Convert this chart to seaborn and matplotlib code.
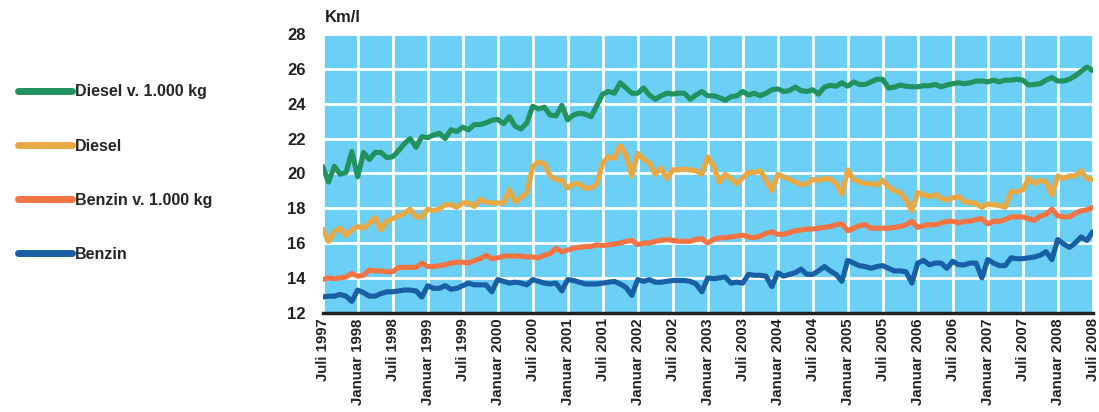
import numpy as np
import pandas as pd
import matplotlib
matplotlib.use("Agg")
import matplotlib.pyplot as plt
import seaborn as sns

# monthly values, Juli 1997 .. Juli 2008 (one row = half a year)
diesel_1000 = [
    20.4, 19.5, 20.4, 19.95, 20.05, 21.25,
    19.8, 21.2, 20.8, 21.2, 21.2, 20.9,
    20.95, 21.3, 21.7, 22.0, 21.5, 22.1,
    22.05, 22.2, 22.3, 22.0, 22.5, 22.4,
    22.65, 22.5, 22.8, 22.8, 22.9, 23.05,
    23.1, 22.85, 23.25, 22.7, 22.55, 22.9,
    23.85, 23.7, 23.8, 23.35, 23.3, 23.9,
    23.07, 23.35, 23.45, 23.4, 23.25, 23.9,
    24.55, 24.7, 24.6, 25.2, 24.9, 24.6,
    24.6, 24.9, 24.5, 24.25, 24.45, 24.6,
    24.55, 24.6, 24.6, 24.25, 24.5, 24.7,
    24.45, 24.45, 24.35, 24.2, 24.4, 24.45,
    24.7, 24.5, 24.6, 24.45, 24.6, 24.8,
    24.85, 24.7, 24.75, 24.95, 24.75, 24.7,
    24.8, 24.55, 24.95, 25.05, 25.0, 25.2,
    25.0, 25.25, 25.1, 25.1, 25.25, 25.4,
    25.4, 24.9, 24.95, 25.07, 25.0, 24.97,
    24.97, 25.03, 25.03, 25.1, 24.97, 25.07,
    25.15, 25.2, 25.15, 25.2, 25.3, 25.3,
    25.25, 25.35, 25.25, 25.35, 25.35, 25.4,
    25.35, 25.07, 25.1, 25.15, 25.35, 25.5,
    25.3, 25.3, 25.4, 25.6, 25.85, 26.1,
    25.9,
]
diesel = [
    16.8, 16.1, 16.65, 16.85, 16.45, 16.75,
    16.95, 16.85, 17.15, 17.45, 16.75, 17.25,
    17.4, 17.55, 17.7, 17.95, 17.5, 17.5,
    17.95, 17.85, 17.95, 18.2, 18.2, 18.05,
    18.3, 18.3, 18.1, 18.5, 18.35, 18.3,
    18.3, 18.3, 19.05, 18.35, 18.6, 18.9,
    20.4, 20.65, 20.55, 19.85, 19.65, 19.6,
    19.15, 19.4, 19.4, 19.15, 19.15, 19.4,
    20.6, 20.95, 20.85, 21.6, 21.05, 19.85,
    21.15, 20.8, 20.6, 19.95, 20.3, 19.7,
    20.2, 20.2, 20.25, 20.2, 20.15, 19.95,
    20.95, 20.4, 19.5, 19.95, 19.7, 19.4,
    19.75, 20.05, 20.05, 20.15, 19.6, 19.0,
    19.95, 19.8, 19.65, 19.5, 19.35, 19.4,
    19.65, 19.6, 19.7, 19.67, 19.42, 18.8,
    20.2, 19.65, 19.5, 19.42, 19.4, 19.33,
    19.6, 19.23, 19.0, 18.9, 18.47, 17.85,
    18.9, 18.77, 18.67, 18.77, 18.57, 18.47,
    18.6, 18.67, 18.37, 18.33, 18.25, 18.05,
    18.25, 18.2, 18.15, 18.05, 18.95, 18.95,
    19.05, 19.7, 19.42, 19.6, 19.5, 18.75,
    19.85, 19.7, 19.85, 19.85, 20.15, 19.7,
    19.65,
]
benzin_1000 = [
    13.9, 14.0, 13.95, 14.0, 14.05, 14.25,
    14.1, 14.15, 14.45, 14.4, 14.4, 14.35,
    14.35, 14.6, 14.6, 14.6, 14.6, 14.85,
    14.65, 14.65, 14.7, 14.75, 14.85, 14.9,
    14.9, 14.85, 15.0, 15.1, 15.3, 15.1,
    15.15, 15.25, 15.25, 15.25, 15.25, 15.2,
    15.2, 15.15, 15.3, 15.4, 15.7, 15.5,
    15.6, 15.7, 15.75, 15.8, 15.8, 15.9,
    15.85, 15.9, 15.95, 16.0, 16.1, 16.15,
    15.9, 16.0, 16.0, 16.1, 16.15, 16.2,
    16.15, 16.1, 16.1, 16.1, 16.2, 16.25,
    16.0, 16.2, 16.3, 16.3, 16.35, 16.4,
    16.45, 16.35, 16.3, 16.4, 16.55, 16.65,
    16.5, 16.5, 16.6, 16.7, 16.75, 16.8,
    16.8, 16.85, 16.9, 16.95, 17.05, 17.1,
    16.7, 16.85, 17.0, 17.05, 16.85, 16.85,
    16.85, 16.85, 16.9, 16.95, 17.05, 17.25,
    16.9, 17.0, 17.05, 17.05, 17.15, 17.25,
    17.25, 17.15, 17.25, 17.25, 17.35, 17.4,
    17.1, 17.25, 17.25, 17.35, 17.5, 17.5,
    17.5, 17.4, 17.3, 17.55, 17.65, 17.95,
    17.55, 17.5, 17.5, 17.7, 17.85, 17.9,
    18.05,
]
benzin = [
    12.9, 12.95, 12.95, 13.05, 12.95, 12.65,
    13.3, 13.15, 12.95, 12.95, 13.1, 13.2,
    13.2, 13.25, 13.3, 13.3, 13.25, 12.9,
    13.55, 13.4, 13.4, 13.55, 13.35, 13.4,
    13.55, 13.7, 13.6, 13.6, 13.6, 13.2,
    13.9, 13.8, 13.7, 13.75, 13.7, 13.6,
    13.9, 13.8, 13.7, 13.65, 13.7, 13.25,
    13.9, 13.85, 13.75, 13.65, 13.65, 13.65,
    13.7, 13.75, 13.8, 13.65, 13.45, 13.0,
    13.9, 13.8, 13.9, 13.75, 13.75, 13.8,
    13.85, 13.85, 13.85, 13.8, 13.65, 13.2,
    14.0, 13.95, 14.0, 14.05, 13.7, 13.75,
    13.7, 14.2, 14.15, 14.15, 14.1, 13.5,
    14.3, 14.1, 14.2, 14.3, 14.5, 14.2,
    14.2, 14.4, 14.65, 14.4, 14.2, 13.8,
    15.0, 14.85, 14.7, 14.65, 14.55, 14.65,
    14.7, 14.55, 14.4, 14.4, 14.35, 13.7,
    14.85, 15.0, 14.75, 14.85, 14.85, 14.55,
    14.95, 14.75, 14.75, 14.85, 14.85, 14.0,
    15.05, 14.85, 14.7, 14.7, 15.15, 15.1,
    15.1, 15.15, 15.2, 15.3, 15.5, 15.05,
    16.2, 15.95, 15.75, 16.0, 16.35, 16.15,
    16.65,
]

series_names = ["Diesel v. 1.000 kg", "Diesel", "Benzin v. 1.000 kg", "Benzin"]
colors = ["#22925F", "#E8A945", "#F47342", "#185FA5"]

tick_labels = []
for y in range(1997, 2009):
    if y > 1997:
        tick_labels.append(f"Januar {y}")
    tick_labels.append(f"Juli {y}")

n = len(benzin)
df = pd.DataFrame({
    "monat": np.tile(np.arange(n), 4),
    "wert": diesel_1000 + diesel + benzin_1000 + benzin,
    "serie": np.repeat(series_names, n),
})

sns.set_style("white")
plt.rcParams["font.family"] = ["Liberation Sans", "DejaVu Sans"]
plt.rcParams["font.weight"] = "bold"

fig = plt.figure(figsize=(10.99, 4.12), dpi=100)
ax = fig.add_axes([0.2936, 0.241, 0.7007, 0.6765])
ax.set_facecolor("#6CCFF6")

sns.lineplot(data=df, x="monat", y="wert", hue="serie", hue_order=series_names,
             palette=colors, linewidth=3.7, ax=ax, legend=True)

ax.set_xlim(0, n - 1)
ax.set_ylim(12, 28)
ax.set_yticks(range(12, 29, 2))
ax.set_xticks(range(0, n, 6))
ax.set_xticklabels(tick_labels, rotation=90, fontsize=10.8, fontweight="bold", color="#222222")
ax.tick_params(axis="y", labelsize=12, colors="#222222", length=0, pad=12)
ax.tick_params(axis="x", length=0, pad=4)
for lab in ax.get_yticklabels():
    lab.set_fontweight("bold")
ax.grid(True, color="white", linewidth=2)
ax.set_axisbelow(True)
ax.set_xlabel("")
ax.set_ylabel("")
for side in ["top", "right", "left"]:
    ax.spines[side].set_visible(False)
ax.spines["bottom"].set_color("#222222")
ax.spines["bottom"].set_linewidth(2.5)

fig.text(0.296, 0.94, "Km/l", fontsize=12, fontweight="bold", color="#222222", va="bottom")

handles, labels = ax.get_legend_handles_labels()
for h in handles:
    h.set_linewidth(5)
    h.set_solid_capstyle("round")
ax.legend(handles, labels, loc="upper left", bbox_to_anchor=(0.003, 0.83),
          bbox_transform=fig.transFigure, frameon=False,
          handlelength=3.4, handletextpad=0.2, labelspacing=2.45,
          prop={"weight": "bold", "size": 11.5})

fig.savefig("out.png", dpi=100)
